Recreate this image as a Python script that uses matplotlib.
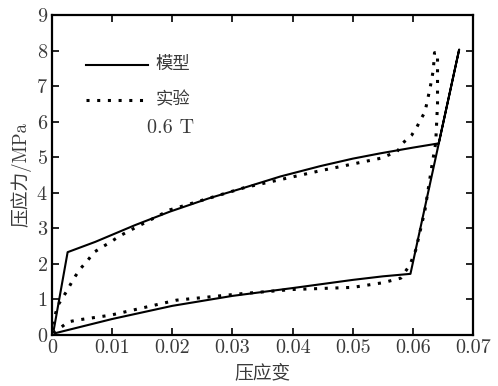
import matplotlib
matplotlib.use('Agg')
import matplotlib.pyplot as plt

plt.rcParams['font.family'] = ['cmr10', 'Noto Sans CJK SC']
plt.rcParams['axes.formatter.use_mathtext'] = True

# model curve (loading then unloading)
model_strain = [0.0003, 0.0026, 0.0072, 0.0138, 0.0196, 0.0260, 0.0321, 0.0380, 0.0446, 0.0500,
                0.0546, 0.0600, 0.0643, 0.0677,
                0.0596, 0.0550, 0.0500, 0.0400, 0.0300, 0.0200, 0.0100, 0.0005]
model_stress = [0.15, 2.33, 2.62, 3.09, 3.47, 3.84, 4.15, 4.46, 4.75, 4.96,
                5.11, 5.27, 5.39, 8.03,
                1.72, 1.65, 1.55, 1.32, 1.10, 0.82, 0.45, 0.05]

# experiment (loading then unloading)
exp_strain = [0.0, 0.0005, 0.0010, 0.0024, 0.0032, 0.0039, 0.0048, 0.0059, 0.0070, 0.0083,
              0.0098, 0.0111, 0.0125, 0.0196, 0.0321, 0.0446, 0.0546, 0.0574, 0.0584, 0.0598,
              0.0607, 0.0613, 0.0620, 0.0623, 0.0629, 0.0634, 0.0636, 0.0641, 0.0641, 0.0638,
              0.0632, 0.0620, 0.0605, 0.0595, 0.0580, 0.0550, 0.0500, 0.0400, 0.0320, 0.0207,
              0.0098, 0.0042, 0.0027, 0.0013, 0.0]
exp_stress = [0.30, 0.55, 0.84, 1.22, 1.46, 1.66, 1.88, 2.09, 2.33, 2.47,
              2.62, 2.77, 2.90, 3.52, 4.15, 4.62, 4.97, 5.16, 5.41, 5.62,
              5.86, 6.06, 6.27, 6.50, 6.98, 7.45, 7.94, 7.94, 6.50, 5.40,
              4.80, 3.50, 2.40, 1.97, 1.60, 1.47, 1.34, 1.28, 1.17, 0.98,
              0.56, 0.42, 0.37, 0.19, 0.05]

xticks = [0, 0.01, 0.02, 0.03, 0.04, 0.05, 0.06, 0.07]
xtick_labels = ['0', '0.01', '0.02', '0.03', '0.04', '0.05', '0.06', '0.07']
yticks = [0, 1, 2, 3, 4, 5, 6, 7, 8, 9]

text_color = '#3a3a3a'

fig = plt.figure(figsize=(4.98, 3.86), dpi=100)
ax = fig.add_axes([0.1044, 0.1321, 0.8454, 0.829])

ax.plot(model_strain, model_stress, color='black', lw=1.5)
ax.plot(exp_strain, exp_stress, color='black', lw=2.2, linestyle=(0, (1, 2.5)),
        dash_capstyle='butt')

# legend drawn by hand inside the axes
ax.plot([0.0057, 0.0160], [7.59, 7.59], color='black', lw=1.5)
ax.text(0.0172, 7.62, '模型', fontsize=12.5, va='center', color=text_color)
ax.plot([0.0057, 0.0155], [6.6, 6.6], color='black', lw=2.2, linestyle=(0, (1, 2.5)),
        dash_capstyle='butt')
ax.text(0.0172, 6.63, '实验', fontsize=12.5, va='center', color=text_color)
ax.text(0.0158, 5.82, '0.6 T', fontsize=14.5, va='center', color=text_color)

ax.set_xlim(0, 0.07)
ax.set_ylim(0, 9)
ax.set_xticks(xticks)
ax.set_xticklabels(xtick_labels)
ax.set_yticks(yticks)
ax.tick_params(direction='in', length=5, width=1.2, top=True, right=True,
               labelsize=14.5, labelcolor=text_color, pad=3)
for s in ax.spines.values():
    s.set_linewidth(1.6)

ax.set_xlabel('压应变', fontsize=13.5, color=text_color, labelpad=5)
ax.set_ylabel('压应力/MPa', fontsize=13.5, color=text_color, labelpad=3)

fig.savefig('out.png', dpi=100)
